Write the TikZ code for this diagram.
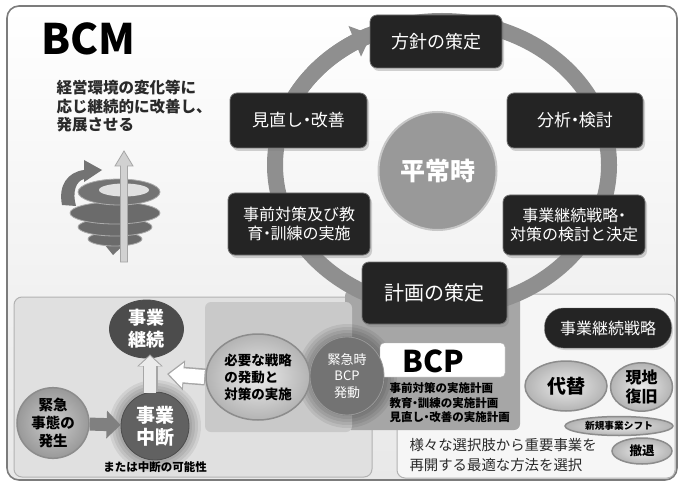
\documentclass[tikz,border=0pt]{standalone}
\usepackage{fontspec}
\setmainfont{Noto Sans CJK JP}
\usetikzlibrary{arrows.meta,shapes.geometric,shadows,calc}

\definecolor{framegray}{HTML}{7C7C7C}
\definecolor{boxfill}{HTML}{242424}
\definecolor{ringgray}{HTML}{8F8F8F}
\definecolor{panelleft}{HTML}{E0E0E0}
\definecolor{panelmid}{HTML}{C9C9C9}
\definecolor{paneltab}{HTML}{A6A6A6}
\definecolor{panelright}{HTML}{F6F6F6}
\definecolor{ovalfill}{HTML}{D3D3D3}
\definecolor{ovalrim}{HTML}{8C8C8C}
\definecolor{textdark}{HTML}{2A2A2A}

\newcommand{\fsz}[2]{\fontsize{#1}{#2}\selectfont}
% a narrow middle dot
\newcommand{\nkg}{\kern-0.27em・\kern-0.27em}

\tikzset{
  stagebox/.style={draw=black!55, line width=0.8pt, fill=boxfill, rounded corners=7pt,
    text=white, align=center, inner sep=0pt,
    drop shadow={shadow xshift=2pt, shadow yshift=-3pt, opacity=0.35}},
  darkoval/.style={ellipse, draw=black!70, line width=0.8pt, text=white, align=center,
    inner sep=0pt, font=\bfseries},
  lightoval/.style={ellipse, draw=ovalrim, line width=1.5pt, inner color=white!92!black,
    outer color=ovalfill!85!black, align=center, inner sep=0pt, text=black},
  panel/.style={rounded corners=8pt, line width=1pt},
  blockarrow/.style={line width=13pt, color=black!50,
    -{Triangle[length=14pt,width=27pt]}},
}

\begin{document}
\begin{tikzpicture}[x=1pt,y=-1pt]
\useasboundingbox (0,0) rectangle (684,486);
\fill[white] (0,0) rectangle (684,486);

% outer frame
\draw[framegray, line width=1.6pt, rounded corners=12pt, top color=white, bottom color=black!9]
  (7,6) rectangle (677,480);

% title and lead text
\node[anchor=west, font=\fsz{42}{46}\bfseries] (bcm) at (38,39) {BCM};
\node[anchor=north west, align=left, text=textdark, font=\fsz{15.5}{18.5}\bfseries] (lead)
  at (53,77) {経営環境の変化等に\\応じ継続的に改善し、\\発展させる};

% spiral icon
\begin{scope}
  \fill[black!55] (100,239) -- (130,239) -- (113,255) -- cycle;
  \foreach \cy/\rx/\ry in {239/27/7, 227/37/9, 213/45/11} {
    \draw[fill=black!58, draw=black!33, line width=0.8pt] (115,\cy) ellipse[x radius=\rx pt, y radius=\ry pt];
  }
  \draw[fill=black!55, draw=black!33, line width=0.8pt] (119,192) ellipse[x radius=41pt, y radius=13pt];
  \fill[black!12] (124,190) ellipse[x radius=25pt, y radius=6.5pt];
  \fill[black!55] (62,205) .. controls (58,185) and (68,172) .. (84,170) -- (84,160)
    -- (102,170) -- (84,182) -- (84,179) .. controls (76,181) and (72,192) .. (76,206) -- cycle;
  \draw[black!35, line width=0.8pt, fill=black!18] (120.5,262) -- (120.5,166) -- (115,166)
    -- (124,151) -- (133,166) -- (127.5,166) -- (127.5,262) -- cycle;
\end{scope}

% panels of the lower half
\draw[panel, draw=black!30, fill=panelleft] (14,297) rectangle (372,477);
\draw[panel, draw=black!30, fill=panelright] (397,294) rectangle (675,478);
\fill[rounded corners=6pt, paneltab] (345,290) rectangle (520,430);
\fill[rounded corners=6pt, panelmid] (205,302) rectangle (352,432);

% improvement cycle ring
\draw[ringgray, line width=16pt] (442,165) ellipse[x radius=167pt, y radius=144pt];
\draw[ringgray, line width=16pt, -{Triangle[length=18pt,width=32pt]}]
  plot[domain=205:245, samples=40, smooth] ({442+167*cos(\x)},{165+144*sin(\x)});

% normal-time hub
\node[circle, minimum size=118pt, fill=black!40, draw=black!22, line width=2pt,
  text=white, font=\fsz{25}{28}\bfseries] (heijo) at (437.5,171) {平常時};

% stages of the cycle
\node[stagebox, minimum width=132pt, minimum height=53pt, font=\fsz{18}{21}] (hoshin) at (436,41.5) {方針の策定};
\node[stagebox, minimum width=136pt, minimum height=55pt, font=\fsz{17}{20}] (bunseki) at (575,120.5) {分析\nkg 検討};
\node[stagebox, minimum width=142pt, minimum height=60pt, font=\fsz{16}{18.5}] (kettei) at (574,225) {事業継続戦略\nkg\\対策の検討と決定};
\node[stagebox, minimum width=145pt, minimum height=62pt, font=\fsz{20}{23}] (keikaku) at (434.5,293) {計画の策定};
\node[stagebox, minimum width=142pt, minimum height=62pt, font=\fsz{16}{18.5}] (jizen) at (299,224) {事前対策及び教\\育\nkg 訓練の実施};
\node[stagebox, minimum width=137pt, minimum height=55pt, font=\fsz{17}{20}] (minaoshi) at (298.5,120.5) {見直し\nkg 改善};

% left panel: from emergency to business continuity
\foreach \r in {34,37,40,43,46} {
  \fill[black, opacity=0.07] (155,426) circle (\r pt);
}
\node[darkoval, fill=black!70, minimum width=74pt, minimum height=58pt, font=\fsz{18}{22}\bfseries] (keizoku) at (146.5,329) {事業\\継続};
\node[darkoval, fill=black!62, minimum width=68pt, minimum height=68pt, font=\fsz{19}{22}\bfseries] (chudan) at (155,426) {事業\\中断};
\node[lightoval, inner color=black!20, outer color=black!40, minimum width=72pt, minimum height=62pt, font=\fsz{14.5}{18}\bfseries] (hassei) at (53,423) {緊急\\事態の\\発生};
\node[font=\fsz{11.5}{13}\bfseries] (kanou) at (155,467) {または中断の可能性};

\draw[blockarrow] (hassei) -- (chudan);
\draw[line width=15pt, black!35, -{Triangle[length=12pt,width=25pt]}]
  ([xshift=-5pt]chudan.north) -- ([xshift=3.5pt,yshift=4pt]keizoku.south);
\draw[line width=12pt, black!8, -{Triangle[length=10pt,width=21pt]}, shorten >=1.5pt]
  ([xshift=-5pt,yshift=-1pt]chudan.north) -- ([xshift=3.5pt,yshift=4pt]keizoku.south);

% middle panel: activation of the plan
\foreach \r in {38,41,44,47,50} {
  \fill[black, opacity=0.07] (347,376) ellipse[x radius=\r pt, y radius=\r pt+2pt];
}
\node[lightoval, minimum width=104pt, minimum height=86pt, font=\fsz{13.5}{17}\bfseries, align=left] (hitsuyo) at (258,377) {必要な戦略\\の発動と\\対策の実施};
\coordinate (joinpt) at (167,374);
\draw[line width=17pt, black!35, -{Triangle[length=17pt,width=29pt]}] (hitsuyo.west) -- (joinpt);
\draw[line width=14pt, white, -{Triangle[length=14pt,width=24pt]}, shorten >=2pt] ([xshift=-1pt]hitsuyo.west) -- (joinpt);

\node[draw=black!30, fill=white, rounded corners=4pt, minimum width=125pt, minimum height=34pt] (bcpbox) at (442.5,360) {};
\node[font=\fsz{30}{33}\bfseries] (bcp) at (433,361) {BCP};
\node[darkoval, fill=black!55, draw=black!40, minimum width=74pt, minimum height=78pt, font=\fsz{13}{16.5}] (bcpgo) at (347,376) {緊急時\\BCP\\発動};
\node[anchor=west, align=left, font=\fsz{11.5}{14.5}\bfseries] (plans) at (386,403) {事前対策の実施計画\\教育\nkg 訓練の実施計画\\見直し\nkg 改善の実施計画};

% right panel: continuity strategies
\node[fill=boxfill, draw=black!55, rounded corners=19pt, minimum width=127pt, minimum height=40pt, text=white, font=\fsz{16}{19},
  drop shadow={shadow xshift=1.5pt, shadow yshift=-2pt, opacity=0.3}] (strat) at (608,328) {事業継続戦略};
\node[lightoval, minimum width=82pt, minimum height=50pt, font=\fsz{19}{22}\bfseries] (daitai) at (566,386) {代替};
\node[lightoval, minimum width=62pt, minimum height=45pt, font=\fsz{16}{19}\bfseries] (genchi) at (641.5,387) {現地\\復旧};
\node[lightoval, minimum width=108pt, minimum height=19pt, font=\fsz{9.7}{11}\bfseries] (shinki) at (619,426) {新規事業シフト};
\node[lightoval, minimum width=60pt, minimum height=26pt, font=\fsz{12.5}{14}\bfseries] (tettai) at (642,451) {撤退};
\node[anchor=west, align=left, text=textdark, font=\fsz{14.4}{20}] (choice) at (406,455) {様々な選択肢から重要事業を\\再開する最適な方法を選択};
\end{tikzpicture}
\end{document}
